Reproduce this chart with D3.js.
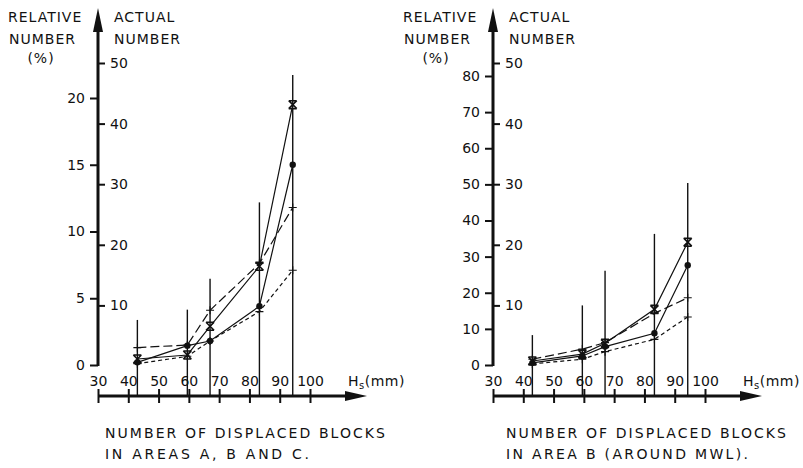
<!DOCTYPE html>
<html>
<head>
<meta charset="utf-8">
<script src="https://cdn.jsdelivr.net/npm/d3@7"></script>
<style>
  body { margin: 0; background: #fff; }
  svg { display: block; font-family: "DejaVu Sans", sans-serif; }
  .lbl { font-size: 14px; fill: #111; letter-spacing: 1px; }
  .tick text { font-size: 14px; fill: #111; font-family: "DejaVu Sans", sans-serif; }
</style>
</head>
<body>
<div id="graph"></div>
<script>
// significant wave height of each test (mm)
const hs = [43, 59.5, 67, 83.3, 94.3];
const hsTicks = [30, 40, 50, 60, 70, 80, 90, 100];
const actualTicks = [10, 20, 30, 40, 50];

// areas A, B and C
const leftRelTicks = [0, 5, 10, 15, 20];
const leftActual = [7.6, 9.3, 14.4, 27, 48];
const leftCross = [0.45, 0.75, 2.9, 7.4, 19.5];
const leftDot = [0.2, 1.45, 1.8, 4.4, 15];
const leftLongDash = [1.3, 1.5, 4.1, 7.6, 11.8];
const leftShortDash = [0.1, 0.65, 1.8, 4.0, 7.1];

// area B (around MWL)
const rightRelTicks = [0, 10, 20, 30, 40, 50, 60, 70, 80];
const rightActual = [5.1, 10, 15.7, 21.8, 30.2];
const rightCross = [1.1, 3.0, 6.0, 15.4, 34];
const rightDot = [0.6, 2.5, 5.1, 8.8, 27.6];
const rightLongDash = [1.6, 4.4, 6.2, 14.3, 18.6];
const rightShortDash = [0.3, 1.6, 3.7, 7.1, 13.3];

// line style + marker for each series
const styles = [
  { dash: null, marker: "cross" },
  { dash: null, marker: "dot" },
  { dash: "9,4", marker: "plus" },
  { dash: "4,3", marker: "plus" },
];

function drawPanel(svg, cfg) {
  const x = d3.scaleLinear().domain([30, 100]).range([cfg.x0, cfg.x0 + 212]);
  const yRel = d3.scaleLinear().domain([0, cfg.relMax]).range([365, cfg.relTop]);
  const yAct = d3.scaleLinear().domain([0, 50]).range([366, 63]);
  const ax = x(30);
  const g = svg.append("g");

  // vertical lines = actual number of displaced blocks
  g.selectAll(".act")
    .data(cfg.actual)
    .enter()
    .append("line")
    .attr("x1", (d, i) => x(hs[i]))
    .attr("x2", (d, i) => x(hs[i]))
    .attr("y1", 396)
    .attr("y2", (d) => yAct(d))
    .attr("stroke", "#111")
    .attr("stroke-width", 1.4);

  // series lines
  const line = d3
    .line()
    .x((d, i) => x(hs[i]))
    .y((d) => yRel(d));
  cfg.series.forEach((s, k) => {
    const st = styles[k];
    g.append("path")
      .attr("d", line(s))
      .attr("fill", "none")
      .attr("stroke", "#111")
      .attr("stroke-width", 1.2)
      .attr("stroke-dasharray", st.dash);
    const m = g
      .selectAll(".m" + k)
      .data(s)
      .enter()
      .append("g")
      .attr("transform", (d, i) => `translate(${x(hs[i])},${yRel(d)})`);
    if (st.marker === "dot") {
      m.append("circle").attr("r", 3.2).attr("fill", "#111");
    } else if (st.marker === "cross") {
      m.append("path")
        .attr("d", "M-4,-4H4M-4,4H4M-4,-4L4,4M4,-4L-4,4")
        .attr("stroke", "#111")
        .attr("stroke-width", 1.6)
        .attr("fill", "none");
    } else {
      m.append("path")
        .attr("d", "M-4,0H4M0,-4V4")
        .attr("stroke", "#111")
        .attr("stroke-width", 1.1);
    }
  });

  // relative axis (left ticks)
  g.append("g")
    .attr("transform", `translate(${ax},0)`)
    .call(d3.axisLeft(yRel).tickValues(cfg.relTicks).tickSize(8).tickPadding(5))
    .call((a) => a.select(".domain").remove())
    .selectAll("line")
    .attr("stroke", "#111")
    .attr("stroke-width", 2);

  // actual axis (right ticks)
  g.append("g")
    .attr("transform", `translate(${ax},0)`)
    .call(d3.axisRight(yAct).tickValues(actualTicks).tickSize(7).tickPadding(5))
    .call((a) => a.select(".domain").remove())
    .selectAll("line")
    .attr("stroke", "#111")
    .attr("stroke-width", 2);

  // thick vertical axis with arrow
  g.append("line")
    .attr("x1", ax).attr("x2", ax)
    .attr("y1", 366).attr("y2", 26)
    .attr("stroke", "#111").attr("stroke-width", 3);
  g.append("path")
    .attr("d", `M${ax},8L${ax - 5},32L${ax + 5},32Z`)
    .attr("fill", "#111");

  // hs labels
  g.append("g")
    .attr("transform", "translate(0,372)")
    .call(d3.axisBottom(x).tickValues(hsTicks).tickSize(0).tickPadding(4))
    .call((a) => a.select(".domain").remove());

  // bottom axis line with ticks through it
  g.append("g")
    .attr("transform", "translate(0,389)")
    .call(d3.axisBottom(x).tickValues(hsTicks).tickSize(14).tickFormat(""))
    .call((a) => a.select(".domain").remove())
    .selectAll("line")
    .attr("stroke", "#111")
    .attr("stroke-width", 2);
  const xEnd = cfg.x0 + 269;
  g.append("line")
    .attr("x1", ax).attr("x2", xEnd - 18)
    .attr("y1", 396).attr("y2", 396)
    .attr("stroke", "#111").attr("stroke-width", 3);
  g.append("path")
    .attr("d", `M${xEnd},396L${xEnd - 22},391L${xEnd - 22},401Z`)
    .attr("fill", "#111");

  const hsLbl = g.append("text").attr("class", "lbl")
    .attr("x", xEnd - 19).attr("y", 386).style("letter-spacing", "0.5px");
  hsLbl.append("tspan").text("H");
  hsLbl.append("tspan").attr("font-size", 10).attr("dy", 3).text("s");
  hsLbl.append("tspan").attr("dy", -3).text("(mm)");

  // axis titles
  g.append("text").attr("class", "lbl").attr("x", ax - 90).attr("y", 22).text("RELATIVE");
  g.append("text").attr("class", "lbl").attr("x", ax - 89).attr("y", 44).text("NUMBER");
  g.append("text").attr("class", "lbl").attr("x", ax - 57).attr("y", 63)
    .attr("text-anchor", "middle").text("(%)");
  g.append("text").attr("class", "lbl").attr("x", ax + 16).attr("y", 22).text("ACTUAL");
  g.append("text").attr("class", "lbl").attr("x", ax + 16).attr("y", 44).text("NUMBER");

  // caption under the chart
  g.append("text").attr("class", "lbl").attr("x", cfg.capX).attr("y", 438)
    .attr("textLength", 281).attr("lengthAdjust", "spacing")
    .text("NUMBER OF DISPLACED BLOCKS");
  g.append("text").attr("class", "lbl").attr("x", cfg.capX).attr("y", 459)
    .attr("textLength", cfg.cap2W).attr("lengthAdjust", "spacing")
    .text(cfg.cap2);
}

document.addEventListener("DOMContentLoaded", function () {
  const svg = d3
    .select("#graph")
    .append("svg")
    .attr("width", 803)
    .attr("height", 468)
    .attr("viewBox", [0, 0, 803, 468]);
  svg.append("rect").attr("width", 803).attr("height", 468).attr("fill", "#fff");

  drawPanel(svg, {
    x0: 98,
    relMax: 20,
    relTop: 98,
    relTicks: leftRelTicks,
    actual: leftActual,
    series: [leftCross, leftDot, leftLongDash, leftShortDash],
    capX: 105,
    cap2: "IN AREAS  A, B  AND  C.",
    cap2W: 205,
  });
  drawPanel(svg, {
    x0: 493,
    relMax: 80,
    relTop: 76,
    relTicks: rightRelTicks,
    actual: rightActual,
    series: [rightCross, rightDot, rightLongDash, rightShortDash],
    capX: 506,
    cap2: "IN  AREA  B (AROUND  MWL).",
    cap2W: 243,
  });
});
</script>
</body>
</html>
